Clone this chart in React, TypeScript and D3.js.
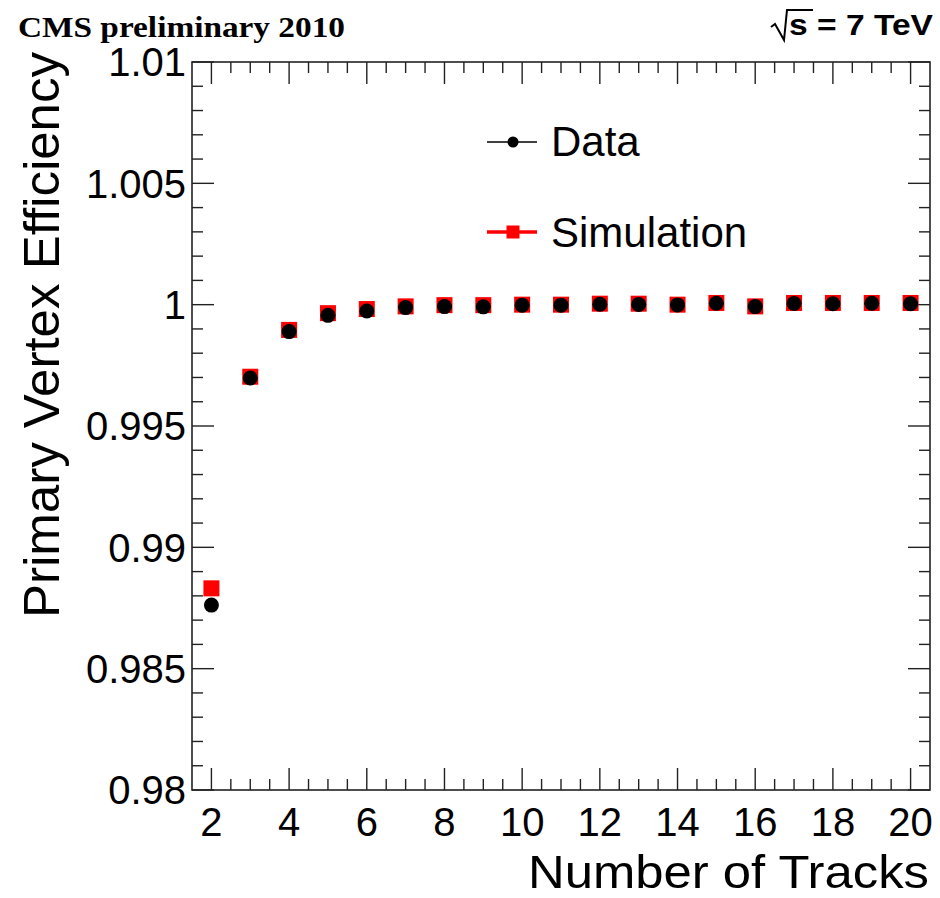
import { useRef, useEffect } from "react";
import * as d3 from "d3";

const tracks = [2, 3, 4, 5, 6, 7, 8, 9, 10, 11, 12, 13, 14, 15, 16, 17, 18, 19, 20];
const dataEff = [
  0.98762, 0.99698, 0.99889, 0.99956, 0.99974, 0.99988, 0.99992, 0.99991, 0.99998, 0.99998,
  1.00002, 1.00001, 0.99999, 1.00006, 0.99992, 1.00005, 1.00004, 1.00006, 1.00004,
];
const simEff = [
  0.98831, 0.99703, 0.99896, 0.99965, 0.99982, 0.99993, 0.99998, 0.99998, 1.0, 1.0,
  1.00004, 1.00004, 1.0, 1.00007, 0.99993, 1.00007, 1.00007, 1.00007, 1.00007,
];
const yTicks = ["0.98", "0.985", "0.99", "0.995", "1", "1.005", "1.01"];
const xTicks = [2, 4, 6, 8, 10, 12, 14, 16, 18, 20];

function EfficiencyChart() {
  const svgRef = useRef<SVGSVGElement>(null);

  useEffect(() => {
    drawChart();
  }, []);

  function drawChart() {
    if (!svgRef.current) return;
    const svg = d3.select(svgRef.current);
    svg.selectAll("*").remove();

    const left = 192, right = 930, top = 62, bottom = 790;
    const x = d3.scaleLinear().domain([1.5, 20.5]).range([left, right]);
    const y = d3.scaleLinear().domain([0.98, 1.01]).range([bottom, top]);
    const sans = "'Liberation Sans', Arial, sans-serif";

    // frame
    svg
      .append("rect")
      .attr("x", left)
      .attr("y", top)
      .attr("width", right - left)
      .attr("height", bottom - top)
      .attr("fill", "none")
      .attr("stroke", "#222")
      .attr("stroke-width", 1.6);

    const ticks = svg.append("g").attr("stroke", "#222").attr("stroke-width", 1.4);

    // x ticks every 0.5, major every 2
    d3.range(2, 20.01, 0.5).forEach((v) => {
      const len = v % 2 === 0 ? 22 : 11;
      ticks.append("line").attr("x1", x(v)).attr("x2", x(v)).attr("y1", bottom).attr("y2", bottom - len);
      ticks.append("line").attr("x1", x(v)).attr("x2", x(v)).attr("y1", top).attr("y2", top + len);
    });

    // y ticks every 0.001, major every 0.005
    d3.range(0, 31).forEach((i) => {
      const v = 0.98 + i * 0.001;
      const len = i % 5 === 0 ? 22 : 11;
      ticks.append("line").attr("x1", left).attr("x2", left + len).attr("y1", y(v)).attr("y2", y(v));
      ticks.append("line").attr("x1", right).attr("x2", right - len).attr("y1", y(v)).attr("y2", y(v));
    });

    svg
      .append("g")
      .selectAll("text")
      .data(yTicks)
      .join("text")
      .attr("x", 186)
      .attr("y", (d) => y(+d))
      .attr("dy", "0.36em")
      .attr("text-anchor", "end")
      .attr("font-family", sans)
      .attr("font-size", 40)
      .text((d) => d);

    svg
      .append("g")
      .selectAll("text")
      .data(xTicks)
      .join("text")
      .attr("x", (d) => x(d))
      .attr("y", 836)
      .attr("text-anchor", "middle")
      .attr("font-family", sans)
      .attr("font-size", 40)
      .text((d) => d);

    // axis titles
    svg
      .append("text")
      .attr("x", 929)
      .attr("y", 888)
      .attr("text-anchor", "end")
      .attr("font-family", sans)
      .attr("font-size", 47)
      .attr("textLength", 401)
      .attr("lengthAdjust", "spacingAndGlyphs")
      .text("Number of Tracks");

    svg
      .append("text")
      .attr("transform", "translate(59,52) rotate(-90)")
      .attr("text-anchor", "end")
      .attr("font-family", sans)
      .attr("font-size", 50)
      .attr("textLength", 566)
      .attr("lengthAdjust", "spacingAndGlyphs")
      .text("Primary Vertex Efficiency");

    // simulation squares, then data circles
    const sq = 16;
    svg
      .append("g")
      .selectAll("rect")
      .data(tracks)
      .join("rect")
      .attr("x", (d) => x(d) - sq / 2)
      .attr("y", (_, i) => y(simEff[i]) - sq / 2)
      .attr("width", sq)
      .attr("height", sq)
      .attr("fill", "#ff0000");

    svg
      .append("g")
      .selectAll("circle")
      .data(tracks)
      .join("circle")
      .attr("cx", (d) => x(d))
      .attr("cy", (_, i) => y(dataEff[i]))
      .attr("r", 7.5)
      .attr("fill", "#000");

    // legend
    const leg = svg.append("g");
    leg.append("line").attr("x1", 487).attr("x2", 537).attr("y1", 142).attr("y2", 142).attr("stroke", "#000").attr("stroke-width", 1.5);
    leg.append("circle").attr("cx", 513).attr("cy", 142).attr("r", 5.5).attr("fill", "#000");
    leg.append("text").attr("x", 551).attr("y", 156).attr("font-family", sans).attr("font-size", 42).text("Data");
    leg.append("line").attr("x1", 487).attr("x2", 537).attr("y1", 232).attr("y2", 232).attr("stroke", "#ff0000").attr("stroke-width", 3.5);
    leg.append("rect").attr("x", 506.5).attr("y", 225.5).attr("width", 13).attr("height", 13).attr("fill", "#ff0000");
    leg.append("text").attr("x", 551).attr("y", 247).attr("font-family", sans).attr("font-size", 42).text("Simulation");

    // header texts
    svg
      .append("text")
      .attr("x", 18)
      .attr("y", 37)
      .attr("font-family", "'Liberation Serif', 'Times New Roman', serif")
      .attr("font-weight", "bold")
      .attr("font-size", 30)
      .attr("textLength", 327)
      .attr("lengthAdjust", "spacingAndGlyphs")
      .text("CMS preliminary 2010");

    svg
      .append("path")
      .attr("d", "M771,27 L775,24 L784,40 L787,10 L813,10")
      .attr("fill", "none")
      .attr("stroke", "#000")
      .attr("stroke-width", 2);

    svg
      .append("text")
      .attr("x", 933)
      .attr("y", 35)
      .attr("text-anchor", "end")
      .attr("font-family", sans)
      .attr("font-weight", "bold")
      .attr("font-size", 29)
      .attr("textLength", 144)
      .attr("lengthAdjust", "spacingAndGlyphs")
      .text("s = 7 TeV");
  }

  return (
    <svg
      ref={svgRef}
      width={940}
      height={898}
      style={{ position: "absolute", top: 0, left: 0, background: "#fff" }}
    />
  );
}

export default function App() {
  return <EfficiencyChart />;
}
